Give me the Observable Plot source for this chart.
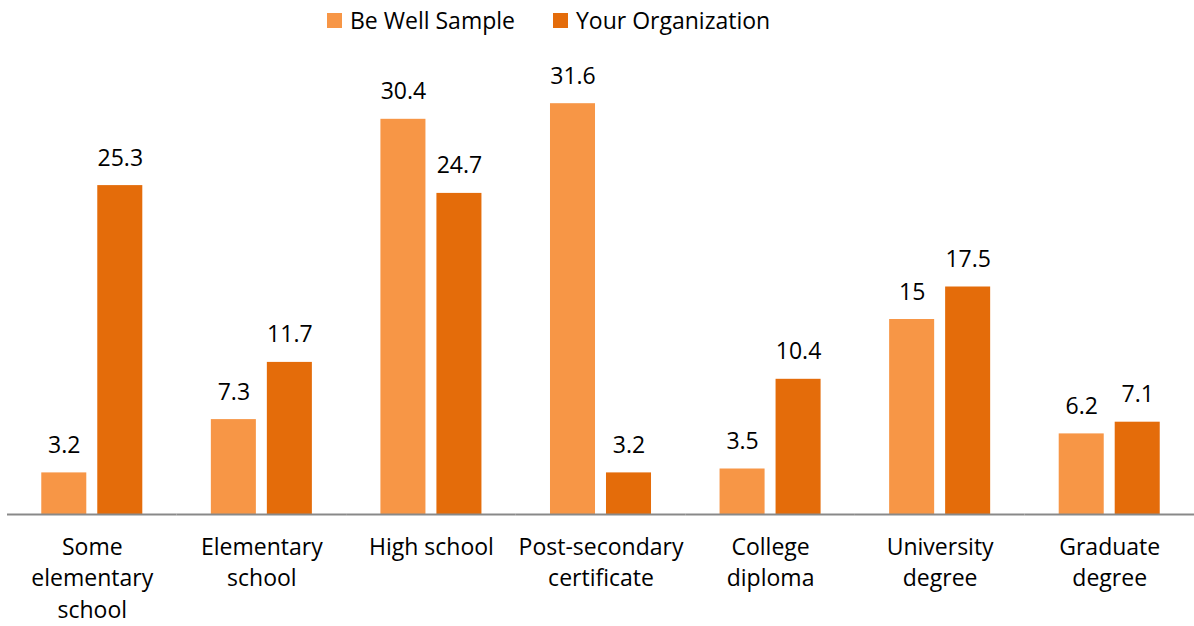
<!DOCTYPE html>
<html>
<head>
<meta charset="utf-8">
<script src="https://cdn.jsdelivr.net/npm/d3@7"></script>
<script src="https://cdn.jsdelivr.net/npm/@observablehq/plot@0.6"></script>
<style>
  html, body { margin: 0; padding: 0; background: #fff; }
  body { width: 1194px; height: 626px; overflow: hidden; font-family: "Open Sans", sans-serif; }
  #legend { height: 40px; position: relative; font-size: 23px; color: #000; }
  .item { display: flex; align-items: center; position: absolute; top: 0; height: 40px; white-space: nowrap; }
  .sw { width: 15px; height: 15px; margin-right: 8px; }
  #chart svg { display: block; }
</style>
</head>
<body>
<div id="legend"></div>
<div id="chart"></div>
<script>
const categories = ["Some\nelementary\nschool", "Elementary\nschool", "High school", "Post-secondary\ncertificate", "College\ndiploma", "University\ndegree", "Graduate\ndegree"];
const series = ["Be Well Sample", "Your Organization"];
const beWell = [3.2, 7.3, 30.4, 31.6, 3.5, 15, 6.2];
const yourOrg = [25.3, 11.7, 24.7, 3.2, 10.4, 17.5, 7.1];
const colors = ["#F79646", "#E46C0A"];

const data = [];
categories.forEach((c, i) => {
  data.push({cat: c, series: series[0], value: beWell[i]});
  data.push({cat: c, series: series[1], value: yourOrg[i]});
});

// legend
const legend = document.getElementById("legend");
const legendX = [327, 553];
series.forEach((s, i) => {
  const it = document.createElement("div");
  it.className = "item";
  it.style.left = legendX[i] + "px";
  const sw = document.createElement("div");
  sw.className = "sw";
  sw.style.background = colors[i];
  const t = document.createElement("span");
  t.textContent = s;
  it.appendChild(sw); it.appendChild(t);
  legend.appendChild(it);
});

const chart = Plot.plot({
  width: 1194,
  height: 586,
  marginLeft: 7,
  marginRight: 0,
  marginTop: 19,
  marginBottom: 112,
  style: {fontFamily: "Open Sans, sans-serif", fontSize: "23px", color: "#000"},
  fx: {domain: categories, padding: 0, round: false},
  x: {domain: series, paddingInner: 0.196, paddingOuter: 0.612, round: false, axis: null},
  y: {domain: [0, 35], axis: null},
  color: {domain: series, range: colors},
  marks: [
    Plot.barY(data, {fx: "cat", x: "series", y: "value", fill: "series"}),
    Plot.ruleY([0], {stroke: "#898989", strokeWidth: 2}),
    Plot.text(data, {fx: "cat", x: "series", y: "value", text: d => String(d.value), lineAnchor: "bottom", dy: -20, fontSize: 23, fill: "#000"}),
    Plot.axisFx({anchor: "bottom", tickSize: 0, tickPadding: 18, fontSize: 23, lineHeight: 1.37, label: null, fill: "#000", textOverflow: null})
  ]
});
document.getElementById("chart").appendChild(chart);
</script>
</body>
</html>
